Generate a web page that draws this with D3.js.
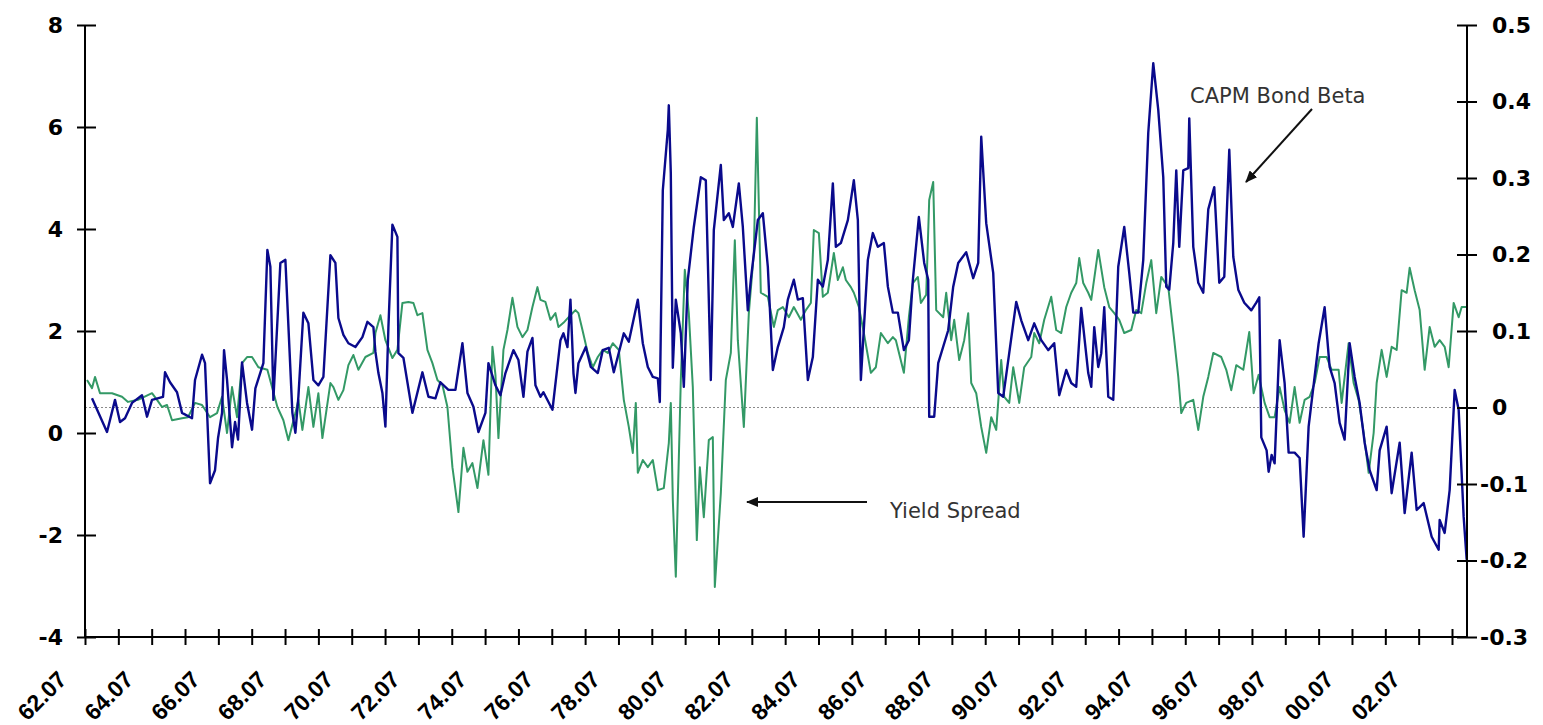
<!DOCTYPE html>
<html><head><meta charset="utf-8">
<script src="https://cdn.jsdelivr.net/npm/d3@7"></script>
<style>body{margin:0;background:#fff}svg{display:block;background:#fff}</style>
</head><body>
<svg id="chart" width="1543" height="725"></svg>
<script>
// ---- Yield spread (left axis) ----
const spreadDates = [1962.56,1962.71,1962.80,1962.95,1963.31,1963.61,1963.79,1964.09,1964.51,1964.66,1964.81,1964.96,1965.11,1965.41,1965.59,1965.80,1966.01,1966.25,1966.46,1966.61,1966.76,1966.91,1967.06,1967.21,1967.36,1967.51,1967.70,1967.97,1968.27,1968.45,1968.60,1968.81,1968.90,1969.02,1969.20,1969.35,1969.50,1969.62,1969.86,1969.95,1970.10,1970.25,1970.40,1970.55,1970.70,1970.91,1971.15,1971.21,1971.36,1971.51,1971.72,1971.87,1972.02,1972.20,1972.35,1972.47,1972.62,1972.77,1972.92,1973.07,1973.22,1973.37,1973.52,1973.70,1973.85,1973.97,1974.12,1974.27,1974.45,1974.60,1974.72,1974.81,1974.90,1975.05,1975.17,1975.32,1975.47,1975.62,1975.77,1975.92,1976.07,1976.16,1976.31,1976.46,1976.61,1976.70,1976.85,1977.06,1977.21,1977.30,1977.42,1977.58,1977.73,1977.88,1978.03,1978.18,1978.33,1978.51,1978.66,1978.81,1978.93,1979.02,1979.08,1979.23,1979.38,1979.53,1979.68,1979.86,1980.01,1980.07,1980.13,1980.22,1980.37,1980.49,1980.61,1980.73,1980.85,1980.94,1981.06,1981.21,1981.33,1981.39,1981.57,1981.72,1981.87,1981.99,1982.08,1982.26,1982.41,1982.56,1982.65,1982.77,1982.98,1983.16,1983.28,1983.43,1983.61,1983.76,1983.97,1984.12,1984.27,1984.36,1984.51,1984.63,1984.78,1984.96,1985.08,1985.23,1985.32,1985.47,1985.56,1985.71,1985.86,1986.07,1986.22,1986.37,1986.58,1986.73,1986.82,1987.06,1987.21,1987.33,1987.48,1987.57,1987.73,1987.82,1987.94,1988.03,1988.24,1988.33,1988.48,1988.57,1988.72,1988.87,1988.99,1989.08,1989.23,1989.38,1989.53,1989.68,1989.83,1989.98,1990.07,1990.22,1990.34,1990.52,1990.67,1990.88,1990.97,1991.12,1991.27,1991.48,1991.63,1991.78,1991.93,1992.08,1992.23,1992.32,1992.44,1992.59,1992.68,1992.89,1993.07,1993.22,1993.37,1993.52,1993.67,1993.88,1994.03,1994.18,1994.33,1994.48,1994.63,1994.78,1994.99,1995.17,1995.29,1995.38,1995.53,1995.74,1995.89,1996.04,1996.19,1996.34,1996.58,1996.73,1996.88,1997.03,1997.24,1997.42,1997.55,1997.70,1997.88,1998.03,1998.18,1998.33,1998.48,1998.63,1998.78,1998.93,1999.08,1999.23,1999.38,1999.53,1999.74,1999.89,2000.10,2000.19,2000.40,2000.55,2000.70,2000.85,2001.00,2001.15,2001.24,2001.39,2001.54,2001.69,2001.84,2001.99,2002.14,2002.23,2002.38,2002.53,2002.68,2002.83,2002.98,2003.13,2003.28,2003.40,2003.55,2003.70,2003.79,2003.94];
const spreadValues = [1.04,0.88,1.10,0.78,0.78,0.71,0.61,0.65,0.78,0.65,0.51,0.55,0.25,0.29,0.31,0.59,0.55,0.31,0.39,0.71,0.00,0.90,0.31,1.37,1.49,1.49,1.29,1.24,0.51,0.25,-0.14,0.39,0.65,0.06,0.90,0.12,0.78,-0.10,0.98,0.90,0.65,0.84,1.33,1.53,1.24,1.49,1.57,1.96,2.31,1.82,1.47,1.63,2.55,2.57,2.55,2.31,2.35,1.63,1.37,1.04,0.94,0.51,-0.67,-1.55,-0.29,-0.76,-0.59,-1.08,-0.14,-0.82,1.69,1.14,-0.10,1.63,2.02,2.65,2.08,1.88,2.02,2.47,2.86,2.61,2.57,2.22,2.35,2.08,2.16,2.31,2.41,2.35,2.02,1.57,1.29,1.49,1.63,1.57,1.76,1.63,0.65,0.12,-0.39,0.59,-0.78,-0.53,-0.67,-0.53,-1.12,-1.08,-0.20,0.59,-1.31,-2.82,1.04,3.20,2.35,0.90,-2.10,-0.67,-1.65,-0.14,-0.08,-3.02,-1.18,1.04,1.57,3.78,1.82,0.12,2.35,3.53,6.18,2.75,2.67,2.08,2.41,2.47,2.27,2.47,2.22,2.41,2.55,3.98,3.92,2.67,2.75,3.53,3.00,3.25,3.00,2.86,2.75,2.47,1.96,1.18,1.29,1.96,1.76,1.88,1.82,1.18,2.27,2.94,3.06,2.55,2.71,4.57,4.92,2.41,2.27,2.75,1.82,2.22,1.43,1.82,2.35,0.98,0.78,0.12,-0.39,0.31,0.06,1.43,0.71,0.59,1.29,0.59,1.29,1.49,1.96,1.76,2.22,2.67,2.02,1.96,2.47,2.75,2.94,3.43,2.94,2.75,2.61,3.59,2.86,2.47,2.35,2.22,1.96,2.02,2.41,2.35,2.94,3.39,2.35,3.06,2.86,1.82,1.10,0.39,0.59,0.65,0.06,0.71,1.10,1.57,1.49,1.24,0.84,1.33,1.24,1.98,0.78,1.14,0.59,0.31,0.31,0.90,0.45,0.20,0.90,0.20,0.65,0.71,0.98,1.49,1.49,1.24,1.24,0.59,1.76,0.98,0.65,0.00,-0.78,0.00,0.98,1.63,1.10,1.69,1.63,2.80,2.75,3.24,2.80,2.41,1.24,2.08,1.69,1.82,1.69,1.29,2.55,2.27,2.47,2.47];

// ---- CAPM bond beta (right axis) ----
const betaDates = [1962.71,1963.16,1963.40,1963.55,1963.70,1963.91,1964.21,1964.36,1964.51,1964.84,1964.90,1965.05,1965.26,1965.41,1965.71,1965.80,1966.01,1966.10,1966.25,1966.40,1966.49,1966.61,1966.67,1966.76,1966.91,1967.00,1967.09,1967.21,1967.36,1967.51,1967.61,1967.85,1967.97,1968.06,1968.15,1968.36,1968.51,1968.72,1968.81,1968.90,1969.05,1969.20,1969.35,1969.50,1969.65,1969.86,1970.01,1970.10,1970.25,1970.40,1970.61,1970.82,1970.97,1971.15,1971.21,1971.30,1971.42,1971.51,1971.60,1971.72,1971.87,1971.90,1972.05,1972.32,1972.62,1972.80,1973.01,1973.16,1973.40,1973.61,1973.82,1973.97,1974.15,1974.30,1974.51,1974.60,1974.81,1974.96,1975.11,1975.35,1975.50,1975.65,1975.77,1975.92,1976.01,1976.16,1976.25,1976.52,1976.76,1976.85,1976.97,1977.06,1977.15,1977.21,1977.30,1977.52,1977.67,1977.88,1978.03,1978.21,1978.36,1978.66,1978.81,1979.08,1979.23,1979.38,1979.53,1979.68,1979.74,1979.83,1979.98,1980.01,1980.07,1980.13,1980.22,1980.37,1980.46,1980.58,1980.76,1980.97,1981.12,1981.27,1981.36,1981.57,1981.66,1981.81,1981.93,1982.11,1982.23,1982.38,1982.47,1982.68,1982.83,1982.98,1983.13,1983.28,1983.46,1983.58,1983.76,1983.88,1984.03,1984.18,1984.33,1984.48,1984.63,1984.78,1984.93,1985.02,1985.17,1985.38,1985.56,1985.68,1985.77,1985.98,1986.13,1986.28,1986.46,1986.58,1986.73,1986.88,1987.06,1987.21,1987.33,1987.51,1987.67,1987.79,1987.82,1987.97,1988.09,1988.39,1988.54,1988.69,1988.93,1989.14,1989.29,1989.38,1989.53,1989.74,1989.89,1990.04,1990.22,1990.43,1990.58,1990.79,1990.97,1991.18,1991.39,1991.57,1991.72,1991.93,1992.08,1992.23,1992.38,1992.59,1992.68,1992.77,1992.89,1992.98,1993.07,1993.19,1993.34,1993.49,1993.67,1993.82,1993.94,1994.09,1994.24,1994.39,1994.54,1994.69,1994.84,1994.93,1995.02,1995.14,1995.23,1995.32,1995.44,1995.59,1995.62,1995.74,1995.89,1996.04,1996.19,1996.37,1996.52,1996.67,1996.82,1996.94,1997.09,1997.27,1997.48,1997.63,1997.72,1997.78,1997.94,1998.00,1998.09,1998.18,1998.33,1998.48,1998.60,1998.78,1998.93,1999.05,1999.20,1999.50,1999.68,1999.83,1999.98,2000.13,2000.28,2000.43,2000.58,2000.73,2000.88,2001.03,2001.24,2001.33,2001.54,2001.69,2001.93,2002.08,2002.29,2002.44,2002.65,2002.89,2003.10,2003.13,2003.28,2003.43,2003.58,2003.70,2003.85,2003.94];
const betaValues = [0.012,-0.032,0.010,-0.019,-0.014,0.006,0.016,-0.012,0.010,0.014,0.046,0.033,0.020,-0.007,-0.014,0.036,0.069,0.058,-0.099,-0.082,-0.040,-0.007,0.075,0.036,-0.052,-0.019,-0.042,0.059,0.006,-0.029,0.025,0.058,0.206,0.184,0.010,0.189,0.193,-0.007,-0.033,0.014,0.124,0.110,0.036,0.029,0.040,0.199,0.189,0.117,0.095,0.084,0.079,0.092,0.112,0.105,0.073,0.045,0.019,-0.025,0.105,0.239,0.223,0.071,0.065,-0.007,0.046,0.014,0.012,0.033,0.023,0.023,0.084,0.019,0.001,-0.032,-0.007,0.058,0.029,0.016,0.045,0.075,0.062,0.014,0.073,0.091,0.029,0.014,0.020,-0.003,0.088,0.097,0.079,0.141,0.045,0.019,0.058,0.079,0.053,0.045,0.075,0.078,0.046,0.097,0.086,0.141,0.084,0.053,0.040,0.038,0.007,0.284,0.363,0.395,0.306,0.052,0.141,0.097,0.027,0.167,0.236,0.301,0.297,0.036,0.232,0.317,0.245,0.254,0.236,0.293,0.236,0.127,0.167,0.245,0.254,0.184,0.049,0.079,0.105,0.141,0.167,0.141,0.143,0.036,0.066,0.167,0.158,0.193,0.293,0.210,0.215,0.245,0.297,0.245,0.036,0.193,0.228,0.210,0.215,0.158,0.124,0.124,0.075,0.088,0.167,0.249,0.189,0.167,-0.012,-0.012,0.058,0.101,0.158,0.189,0.203,0.169,0.189,0.354,0.241,0.176,0.019,0.014,0.071,0.138,0.114,0.088,0.110,0.088,0.075,0.084,0.016,0.049,0.032,0.027,0.130,0.045,0.027,0.105,0.053,0.071,0.131,0.014,0.010,0.184,0.236,0.176,0.124,0.124,0.193,0.359,0.450,0.389,0.301,0.158,0.154,0.215,0.310,0.210,0.310,0.313,0.378,0.210,0.163,0.150,0.259,0.288,0.163,0.171,0.337,0.197,0.154,0.137,0.127,0.137,0.144,-0.039,-0.056,-0.084,-0.062,-0.073,0.088,0.032,-0.059,-0.059,-0.066,-0.169,-0.025,0.084,0.131,0.053,0.032,-0.020,-0.042,0.084,0.040,0.006,-0.046,-0.082,-0.108,-0.056,-0.025,-0.112,-0.046,-0.138,-0.059,-0.134,-0.125,-0.169,-0.186,-0.147,-0.164,-0.108,0.023,-0.003,-0.143,-0.199];

// ---- Axes ticks / labels ----
const leftTicks = [-4,-2,0,2,4,6,8];
const leftLabels = ["-4","-2","0","2","4","6","8"];
const rightTicks = [-0.3,-0.2,-0.1,0,0.1,0.2,0.3,0.4,0.5];
const rightLabels = ["-0.3","-0.2","-0.1","0","0.1","0.2","0.3","0.4","0.5"];
const xTickYears = [1962.5,1963.5,1964.5,1965.5,1966.5,1967.5,1968.5,1969.5,1970.5,1971.5,1972.5,1973.5,1974.5,1975.5,1976.5,1977.5,1978.5,1979.5,1980.5,1981.5,1982.5,1983.5,1984.5,1985.5,1986.5,1987.5,1988.5,1989.5,1990.5,1991.5,1992.5,1993.5,1994.5,1995.5,1996.5,1997.5,1998.5,1999.5,2000.5,2001.5,2002.5,2003.5];
const xLabelYears = [1962.5,1964.5,1966.5,1968.5,1970.5,1972.5,1974.5,1976.5,1978.5,1980.5,1982.5,1984.5,1986.5,1988.5,1990.5,1992.5,1994.5,1996.5,1998.5,2000.5,2002.5];
const xLabels = ["62.07","64.07","66.07","68.07","70.07","72.07","74.07","76.07","78.07","80.07","82.07","84.07","86.07","88.07","90.07","92.07","94.07","96.07","98.07","00.07","02.07"];
const xDomain = [1962.5, 2003.95];

const svg = d3.select("#chart");
const L = 85, R = 1467, T = 25, B = 637;
const x = d3.scaleLinear().domain(xDomain).range([L, R]);
const yL = d3.scaleLinear().domain([-4, 8]).range([B, T]);
const yR = d3.scaleLinear().domain([-0.3, 0.5]).range([B, T]);

const numFont = "'DejaVu Sans', Verdana, sans-serif";

// zero line (dotted)
svg.append("line")
  .attr("x1", L).attr("x2", R).attr("y1", yR(0)).attr("y2", yR(0))
  .attr("stroke", "#8a8a8a").attr("stroke-width", 1.2).attr("stroke-dasharray", "2,2");

// series
const spread = spreadDates.map((d, i) => [d, spreadValues[i]]);
const beta = betaDates.map((d, i) => [d, betaValues[i]]);
svg.append("path").datum(spread)
  .attr("fill", "none").attr("stroke", "#339966").attr("stroke-width", 2).attr("stroke-linejoin", "round")
  .attr("d", d3.line().x(d => x(d[0])).y(d => yL(d[1])));
svg.append("path").datum(beta)
  .attr("fill", "none").attr("stroke", "#0a0a8c").attr("stroke-width", 2.4).attr("stroke-linejoin", "round")
  .attr("d", d3.line().x(d => x(d[0])).y(d => yR(d[1])));

// left axis
const gL = svg.append("g").attr("transform", `translate(${L},0)`)
  .call(d3.axisLeft(yL).tickValues(leftTicks).tickFormat((d, i) => leftLabels[i]).tickSize(8).tickPadding(14));
gL.selectAll(".tick line").attr("x2", -8).attr("x1", 11);
// right axis
const gR = svg.append("g").attr("transform", `translate(${R},0)`)
  .call(d3.axisRight(yR).tickValues(rightTicks).tickFormat((d, i) => rightLabels[i]).tickSize(10).tickPadding(15));
gR.selectAll(".tick line").attr("x1", -10).attr("x2", 10);
gR.selectAll(".tick text").attr("dx", d => d < 0 ? -12 : 0);
// bottom axis
const gB = svg.append("g").attr("transform", `translate(0,${B})`)
  .call(d3.axisBottom(x).tickValues(xTickYears).tickFormat("").tickSize(8));
gB.selectAll(".tick line").attr("y1", -8).attr("y2", 8);

[gL, gR, gB].forEach(g => {
  g.select(".domain").attr("stroke", "#000").attr("stroke-width", 2);
  g.selectAll(".tick line").attr("stroke", "#000").attr("stroke-width", 2);
  g.selectAll(".tick text").attr("fill", "#000").style("font-family", numFont)
    .style("font-size", "22px").style("font-weight", "bold");
});
gB.select(".domain").attr("d", `M${L},0H${R}`);
gL.select(".domain").attr("d", `M0,${B}V${T}`);
gR.select(".domain").attr("d", `M0,${B}V${T}`);

// bottom rotated labels
svg.append("g").selectAll("text").data(xLabelYears).join("text")
  .attr("transform", d => `translate(${x(d) - 17},${B + 44}) rotate(-45)`)
  .attr("text-anchor", "end")
  .style("font-family", "'Liberation Sans', Arial, sans-serif")
  .style("font-size", "23px").style("font-weight", "bold").attr("fill", "#000")
  .text((d, i) => xLabels[i]);

// annotations
const defs = svg.append("defs");
defs.append("marker").attr("id", "ah").attr("viewBox", "0 0 12 10").attr("refX", 11).attr("refY", 5)
  .attr("markerWidth", 12).attr("markerHeight", 10).attr("markerUnits", "userSpaceOnUse").attr("orient", "auto")
  .append("path").attr("d", "M0,0L12,5L0,10z").attr("fill", "#111");

const annFont = "'DejaVu Sans', Verdana, sans-serif";
svg.append("text").attr("x", 1190).attr("y", 103).text("CAPM Bond Beta")
  .style("font-family", annFont).style("font-size", "21px").attr("fill", "#333");
svg.append("line").attr("x1", 1312).attr("y1", 109).attr("x2", 1246).attr("y2", 182)
  .attr("stroke", "#111").attr("stroke-width", 2).attr("marker-end", "url(#ah)");

svg.append("text").attr("x", 890).attr("y", 518).text("Yield Spread")
  .style("font-family", annFont).style("font-size", "21px").attr("fill", "#333");
svg.append("line").attr("x1", 867).attr("y1", 502).attr("x2", 747).attr("y2", 502)
  .attr("stroke", "#111").attr("stroke-width", 2).attr("marker-end", "url(#ah)");
</script>
</body></html>
